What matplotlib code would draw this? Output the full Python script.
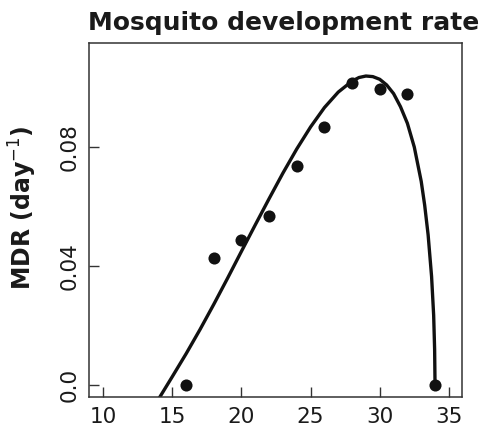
import matplotlib
matplotlib.use("Agg")
import matplotlib.pyplot as plt

plt.rcParams["font.family"] = ["DejaVu Sans"]

# Observed development rates
temp = [16, 18, 20, 22, 24, 26, 28, 30, 32, 34]
mdr = [0.0, 0.0426, 0.0487, 0.0568, 0.0737, 0.0867, 0.1016, 0.0997, 0.0977, 0.0]

# Fitted curve
curve_t = [14.0, 15, 16, 17, 18, 19, 20, 21, 22, 23, 24, 25, 26, 27, 28,
           28.5, 29, 29.5, 30, 30.5, 31, 31.5, 32, 32.5, 33, 33.25, 33.5,
           33.75, 33.9, 33.97, 34.0]
curve_mdr = [-0.0047, 0.0029, 0.0106, 0.0187, 0.0272, 0.0360, 0.0450, 0.0539,
             0.0627, 0.0713, 0.0794, 0.0868, 0.0933, 0.0985, 0.1022, 0.1034,
             0.1039, 0.1037, 0.1028, 0.1009, 0.0980, 0.0936, 0.0880, 0.0800,
             0.0685, 0.0605, 0.0505, 0.0365, 0.0235, 0.012, 0.0]

xticks = [10, 15, 20, 25, 30, 35]
yticks = [0.0, 0.04, 0.08]
ytick_labels = ["0.0", "0.04", "0.08"]

fig = plt.figure(figsize=(4.81, 4.33), dpi=100)
ax = fig.add_axes([0.185, 0.083, 0.7755, 0.8177])

ax.plot(curve_t, curve_mdr, color="#111111", lw=2.4, solid_capstyle="butt")
ax.plot(temp, mdr, "o", color="#111111", ms=8.7, mec="none")

ax.set_xlim(8.97, 35.95)
ax.set_ylim(-0.004, 0.115)
ax.set_xticks(xticks)
ax.set_yticks(yticks)
ax.set_yticklabels(ytick_labels, rotation=90, va="center")

ax.tick_params(direction="in", length=7, width=1.0, colors="#333333",
               labelcolor="#1a1a1a", labelsize=15.5, pad=7)
for sp in ax.spines.values():
    sp.set_linewidth(1.1)
    sp.set_color("#333333")

fig.text(88 / 481, 1 - 30 / 433, "Mosquito development rate", ha="left",
         va="baseline", fontsize=18, fontweight="bold", color="#1a1a1a")
fig.text(23 / 481, 1 - 208 / 433, "MDR (day$^{-1}$)", rotation=90,
         ha="center", va="center", fontsize=17, fontweight="bold",
         color="#1a1a1a")

fig.savefig("out.png", dpi=100)
